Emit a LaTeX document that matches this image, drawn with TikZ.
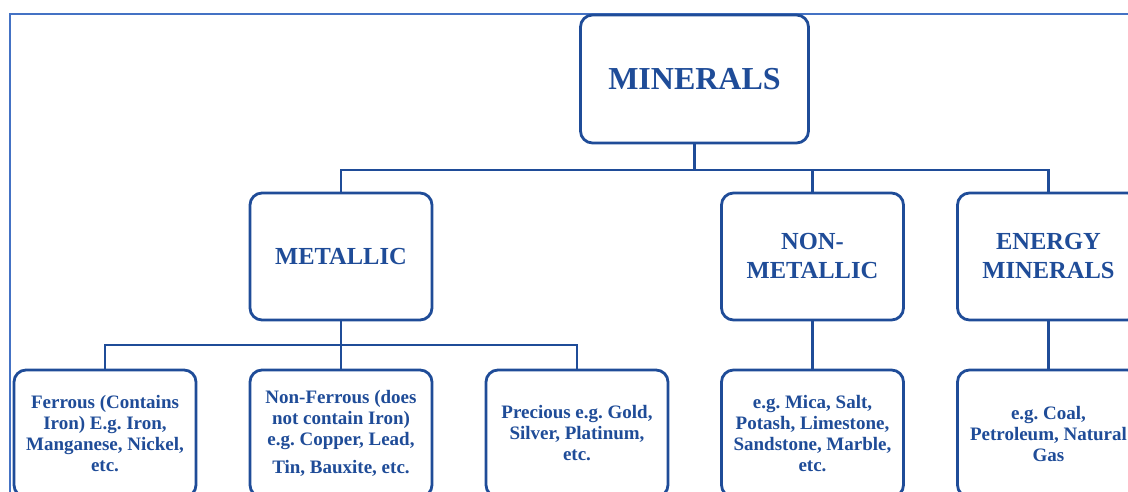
\documentclass[tikz,border=0pt]{standalone}
\usepackage{fontspec}
\setmainfont{Liberation Serif}
\usepackage{xcolor}
\usetikzlibrary{positioning}
\definecolor{mineralblue}{RGB}{31,76,152}
\definecolor{frameblue}{RGB}{68,114,196}
\frenchspacing

\begin{document}
\begin{tikzpicture}[
        x=1pt, y=-1pt,
        node distance=54pt,
        box/.style={rectangle, rounded corners=12pt, draw=mineralblue, line width=2.8pt, minimum width=182pt, minimum height=127pt, align=center, text=mineralblue, outer sep=0pt, fill=white},
        headbox/.style={box, font=\fontsize{24.5}{29}\selectfont\bfseries},
        leafbox/.style={box, font=\fontsize{19}{21}\selectfont\bfseries},
        link/.style={draw=mineralblue, line width=2.8pt},
    ]
        \useasboundingbox (0,0) rectangle (1128,492);
        \clip (0,0) rectangle (1128,492);

        % Frame
        \draw[frameblue, line width=1.5pt] (10,492) -- (10,14) -- (1128,14);

        % Root
        \node[box, minimum width=228pt, minimum height=128pt, font=\fontsize{32}{36}\selectfont\bfseries] (root) at (694.5,79) {MINERALS};

        % Main groups
        \node[headbox] (met) at (341,256.5) {METALLIC};
        \node[headbox] (nonmet) at (812.5,256.5) {NON-\\METALLIC};
        \node[headbox, right=of nonmet] (energy) {ENERGY\\MINERALS};

        % Examples
        \node[leafbox, below=50pt of met] (nonf) {Non-Ferrous (does\\not contain Iron)\\e.g. Copper, Lead,\\[7pt]Tin, Bauxite, etc.};
        \node[leafbox, left=of nonf] (ferrous) {Ferrous (Contains\\Iron) E.g. Iron,\\Manganese, Nickel,\\etc.};
        \node[leafbox, right=of nonf] (precious) {Precious e.g. Gold,\\Silver, Platinum,\\etc.};
        \node[leafbox, below=50pt of nonmet] (mica) {e.g. Mica, Salt,\\Potash, Limestone,\\Sandstone, Marble,\\etc.};
        \node[leafbox, below=50pt of energy] (coal) {e.g. Coal,\\Petroleum, Natural\\Gas};

        % Links
        \draw[link] (root.south) -- ++(0,27) -| (met.north);
        \draw[link] (root.south) -- ++(0,27) -| (nonmet.north);
        \draw[link] (root.south) -- ++(0,27) -| (energy.north);
        \draw[link] (met.south) -- ++(0,25) -| (ferrous.north);
        \draw[link] (met.south) -- (nonf.north);
        \draw[link] (met.south) -- ++(0,25) -| (precious.north);
        \draw[link] (nonmet.south) -- (mica.north);
        \draw[link] (energy.south) -- (coal.north);

    \end{tikzpicture}
\end{document}
